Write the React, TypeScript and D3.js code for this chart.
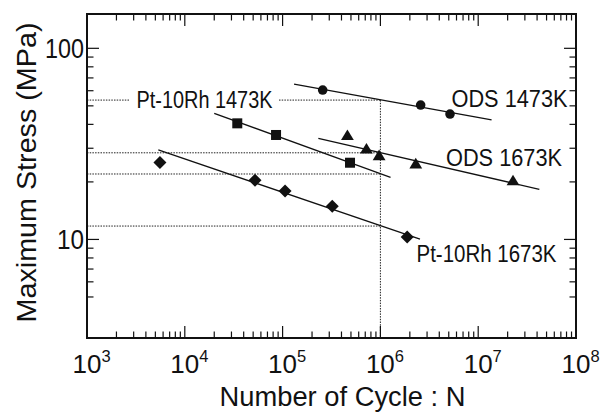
import React from 'react';
import * as d3 from 'd3';

// ---- Data ----
const odsN1473 = [2.57e5, 2.58e6, 5.15e6];
const odsS1473 = [60.5, 50.5, 45.3];
const ptN1473 = [3.44e4, 8.57e4, 4.89e5];
const ptS1473 = [40.5, 35.2, 25.2];
const odsN1673 = [4.6e5, 7.2e5, 9.7e5, 2.3e6, 2.27e7];
const odsS1673 = [35.2, 29.9, 27.6, 25.0, 20.4];
const ptN1673 = [5.57e3, 5.22e4, 1.06e5, 3.22e5, 1.88e6];
const ptS1673 = [25.3, 20.4, 17.9, 14.9, 10.3];

// fitted lines: [N start, N end], [S start, S end]
const odsFitN1473 = [1.31e5, 1.37e7];
const odsFitS1473 = [65.0, 42.2];
const ptFitN1473 = [2.0e4, 1.27e6];
const ptFitS1473 = [45.7, 21.1];
const odsFitN1673 = [2.32e5, 4.22e7];
const odsFitS1673 = [33.8, 18.3];
const ptFitN1673 = [5.36e3, 2.54e6];
const ptFitS1673 = [29.4, 10.04];

// reference stresses at N = 1e6 (dotted guides)
const refN = 1e6;
const refS = [53.6, 28.4, 22.0, 11.75];

const xTickValues = [1e3, 1e4, 1e5, 1e6, 1e7, 1e8];
const xTickExps = ['3', '4', '5', '6', '7', '8'];
const yTickValues = [10, 100];
const yTickLabels = ['10', '100'];

const labels = ['Pt-10Rh 1473K', 'ODS 1473K', 'ODS 1673K', 'Pt-10Rh 1673K'];

const W = 602;
const H = 412;
const L = 87, R = 576, T = 14, B = 338;

const x = d3.scaleLog().domain([1e3, 1e8]).range([L, R]);
const y = d3.scaleLog().domain([3.05, 151.2]).range([B, T]);

const FONT = '"Liberation Sans", Arial, Helvetica, sans-serif';

function minorTicks(lo: number, hi: number, domainLo: number, domainHi: number) {
  const out: number[] = [];
  for (let e = lo; e <= hi; e++) {
    for (let k = 2; k <= 9; k++) {
      const v = k * Math.pow(10, e);
      if (v > domainLo && v < domainHi) out.push(v);
    }
  }
  return out;
}

const diamond = (r: number) => `M0,${-r}L${r},0L0,${r}L${-r},0Z`;
const triangle = `M0,-5.6L6.4,5L-6.4,5Z`;

export default function App() {
  const line = d3
    .line<[number, number]>()
    .x((d) => x(d[0]))
    .y((d) => y(d[1]));

  const fits: [number[], number[]][] = [
    [odsFitN1473, odsFitS1473],
    [ptFitN1473, ptFitS1473],
    [odsFitN1673, odsFitS1673],
    [ptFitN1673, ptFitS1673],
  ];

  const xMinor = minorTicks(3, 7, 1e3, 1e8);
  const yMinor = minorTicks(0, 2, 4.5, 151);

  const majLen = 12;
  const minLen = 6.5;

  const circle = d3.symbol().type(d3.symbolCircle).size(Math.PI * 4.8 * 4.8)()!;

  return (
    <svg
      width={W}
      height={H}
      viewBox={`0 0 ${W} ${H}`}
      style={{ position: 'absolute', left: 0, top: 0, background: '#fff' }}
      fontFamily={FONT}
    >
      <rect x={0} y={0} width={W} height={H} fill="#fff" />

      {/* dotted guides */}
      <g stroke="#222" strokeWidth={1} strokeDasharray="1.5,1.2" fill="none">
        <line x1={L} x2={130} y1={y(refS[0])} y2={y(refS[0])} />
        <line x1={279} x2={x(refN)} y1={y(refS[0])} y2={y(refS[0])} />
        {refS.slice(1).map((s, i) => (
          <line key={i} x1={L} x2={x(refN)} y1={y(s)} y2={y(s)} />
        ))}
        <line x1={x(refN)} x2={x(refN)} y1={y(refS[0])} y2={B} />
      </g>

      {/* fitted lines */}
      <g stroke="#111" strokeWidth={1.3} fill="none">
        {fits.map(([n, s], i) => (
          <path key={i} d={line([[n[0], s[0]], [n[1], s[1]]])!} />
        ))}
      </g>

      {/* markers */}
      <g fill="#111">
        {odsN1473.map((n, i) => (
          <path key={'c' + i} d={circle} transform={`translate(${x(n)},${y(odsS1473[i])})`} />
        ))}
        {ptN1473.map((n, i) => (
          <rect key={'s' + i} x={x(n) - 5} y={y(ptS1473[i]) - 5} width={10} height={10} />
        ))}
        {odsN1673.map((n, i) => (
          <path key={'t' + i} d={triangle} transform={`translate(${x(n)},${y(odsS1673[i])})`} />
        ))}
        {ptN1673.map((n, i) => (
          <path key={'d' + i} d={diamond(6.5)} transform={`translate(${x(n)},${y(ptS1673[i])})`} />
        ))}
      </g>

      {/* series labels */}
      <g fill="#111" fontSize={23}>
        <text x={136.5} y={107.5} textLength={136} lengthAdjust="spacingAndGlyphs">{labels[0]}</text>
        <text x={451.5} y={107.3} textLength={116} lengthAdjust="spacingAndGlyphs">{labels[1]}</text>
        <text x={446} y={166} textLength={116} lengthAdjust="spacingAndGlyphs">{labels[2]}</text>
        <text x={416.5} y={261.7} textLength={140} lengthAdjust="spacingAndGlyphs">{labels[3]}</text>
      </g>

      {/* ticks */}
      <g stroke="#111" strokeWidth={1.2}>
        {xTickValues.map((v, i) => (
          <g key={'xm' + i}>
            <line x1={x(v)} x2={x(v)} y1={B} y2={B - majLen} />
            <line x1={x(v)} x2={x(v)} y1={T} y2={T + majLen} />
          </g>
        ))}
        {xMinor.map((v, i) => (
          <g key={'xn' + i}>
            <line x1={x(v)} x2={x(v)} y1={B} y2={B - minLen} />
            <line x1={x(v)} x2={x(v)} y1={T} y2={T + minLen} />
          </g>
        ))}
        {yTickValues.map((v, i) => (
          <g key={'ym' + i}>
            <line x1={L} x2={L + majLen} y1={y(v)} y2={y(v)} />
            <line x1={R} x2={R - majLen} y1={y(v)} y2={y(v)} />
          </g>
        ))}
        {yMinor.map((v, i) => (
          <g key={'yn' + i}>
            <line x1={L} x2={L + minLen} y1={y(v)} y2={y(v)} />
            <line x1={R} x2={R - minLen} y1={y(v)} y2={y(v)} />
          </g>
        ))}
      </g>

      {/* frame */}
      <rect x={L} y={T} width={R - L} height={B - T} fill="none" stroke="#111" strokeWidth={2} />

      {/* x tick labels */}
      <g fill="#111">
        {xTickValues.map((v, i) => (
          <text key={'xl' + i} x={x(v) - 14.5} y={373.3} fontSize={26}>
            10
            <tspan fontSize={16.5} dy={-11.5}>{xTickExps[i]}</tspan>
          </text>
        ))}
      </g>

      {/* y tick labels */}
      <g fill="#111" fontSize={27} textAnchor="end">
        {yTickValues.map((v, i) => (
          <text
            key={'yl' + i}
            x={84}
            y={y(v) + 9.6}
            textLength={i === 1 ? 39 : 27}
            lengthAdjust="spacingAndGlyphs"
          >
            {yTickLabels[i]}
          </text>
        ))}
      </g>

      {/* axis titles */}
      <text x={342.5} y={405.5} fontSize={27} textAnchor="middle" fill="#111" textLength={246} lengthAdjust="spacingAndGlyphs">
        Number of Cycle : N
      </text>
      <text
        transform="translate(36,172.5) rotate(-90)"
        fontSize={27}
        textAnchor="middle"
        fill="#111"
        textLength={300}
        lengthAdjust="spacingAndGlyphs"
      >
        Maximum Stress (MPa)
      </text>
    </svg>
  );
}
